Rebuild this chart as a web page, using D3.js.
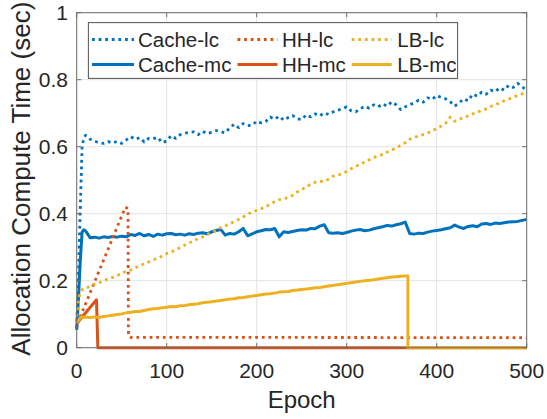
<!DOCTYPE html>
<html><head><meta charset="utf-8">
<script src="https://cdn.jsdelivr.net/npm/d3@7"></script>
<style>
body{margin:0;background:#fff}
svg{display:block}
text{font-family:"Liberation Sans",Arial,Helvetica,sans-serif;fill:#262626}
</style>
</head><body><svg id="c" width="547" height="419"></svg>
<script>
// ---------- data ----------
const seriesNames = ["Cache-lc","Cache-mc","HH-lc","HH-mc","LB-lc","LB-mc"];
const xTicks = [0,100,200,300,400,500];
const yTicks = [0,0.2,0.4,0.6,0.8,1];
const yTickLabels = ["0","0.2","0.4","0.6","0.8","1"];

const epochs = [0,2,4,6,8,10,15,20,25,30,35,40,45,50,55,60,65,70,75,80,85,90,95,100,
 105,110,115,120,125,130,135,140,145,150,155,160,165,170,175,180,185,190,195,200,
 205,210,215,220,225,230,235,240,245,250,255,260,265,270,275,280,285,290,295,300,
 305,310,315,320,325,330,335,340,345,350,355,360,365,370,375,380,385,390,395,400,
 405,410,415,420,425,430,435,440,445,450,455,460,465,470,475,480,485,490,495,500];

const cacheLc = [0.06,0.22,0.42,0.60,0.628,0.634,0.622,0.616,0.612,0.610,0.615,0.611,0.616,0.610,0.620,0.630,0.622,0.627,0.614,0.625,0.624,0.628,0.612,0.617,
 0.633,0.625,0.636,0.640,0.643,0.644,0.636,0.646,0.639,0.643,0.648,0.645,0.641,0.656,0.667,0.657,0.669,0.663,0.664,0.676,
 0.671,0.675,0.689,0.682,0.691,0.679,0.687,0.693,0.683,0.681,0.695,0.689,0.698,0.692,0.701,0.696,0.704,0.709,0.713,0.719,
 0.707,0.704,0.713,0.721,0.715,0.725,0.719,0.728,0.721,0.734,0.725,0.711,0.719,0.725,0.731,0.739,0.733,0.746,0.741,0.753,
 0.747,0.743,0.734,0.721,0.731,0.743,0.737,0.757,0.751,0.763,0.757,0.769,0.764,0.776,0.769,0.783,0.777,0.789,0.779,0.768];

const cacheMc = [0.053,0.15,0.26,0.345,0.352,0.348,0.328,0.330,0.327,0.331,0.329,0.332,0.330,0.333,0.331,0.338,0.335,0.341,0.334,0.338,0.332,0.339,0.336,0.340,
 0.341,0.337,0.339,0.336,0.340,0.338,0.342,0.343,0.340,0.346,0.350,0.353,0.336,0.341,0.339,0.346,0.356,0.334,0.340,0.346,
 0.349,0.353,0.352,0.356,0.331,0.346,0.344,0.347,0.350,0.352,0.351,0.356,0.355,0.363,0.367,0.343,0.342,0.343,0.341,0.344,
 0.348,0.351,0.353,0.349,0.351,0.355,0.358,0.361,0.365,0.363,0.367,0.370,0.375,0.341,0.339,0.342,0.341,0.345,0.348,0.350,
 0.352,0.355,0.358,0.366,0.360,0.356,0.362,0.364,0.361,0.369,0.371,0.368,0.372,0.371,0.373,0.375,0.376,0.377,0.380,0.383];

const lbLc = [0.093,0.14,0.168,0.173,0.176,0.178,0.183,0.190,0.194,0.200,0.206,0.210,0.215,0.222,0.228,0.232,0.238,0.246,0.250,0.256,0.262,0.267,0.274,0.281,
 0.286,0.292,0.299,0.306,0.313,0.319,0.326,0.331,0.338,0.344,0.351,0.358,0.363,0.370,0.376,0.383,0.390,0.398,0.406,0.410,
 0.415,0.421,0.428,0.436,0.442,0.444,0.449,0.455,0.465,0.472,0.480,0.488,0.494,0.496,0.497,0.503,0.512,0.515,0.520,0.526,
 0.534,0.541,0.548,0.554,0.561,0.568,0.572,0.577,0.584,0.590,0.596,0.604,0.612,0.622,0.628,0.632,0.636,0.641,0.648,0.654,
 0.662,0.670,0.688,0.676,0.681,0.688,0.692,0.698,0.703,0.708,0.713,0.720,0.725,0.731,0.737,0.742,0.748,0.753,0.758,0.764];

const lbMcEpochs = [0,5,10,15,20,25,30,35,40,45,50,55,60,65,70,75,80,85,90,95,100,
 105,110,115,120,125,130,135,140,145,150,155,160,165,170,175,180,185,190,195,200,
 205,210,215,220,225,230,235,240,245,250,255,260,265,270,275,280,285,290,295,300,
 305,310,315,320,325,330,335,340,345,350,355,360,365,368,368,500];
const lbMc = [0.075,0.092,0.091,0.090,0.092,0.090,0.093,0.095,0.097,0.099,0.101,0.104,0.106,0.108,0.108,0.111,0.114,0.116,0.117,0.119,0.121,
 0.123,0.122,0.125,0.126,0.128,0.130,0.131,0.134,0.136,0.137,0.139,0.141,0.143,0.145,0.146,0.149,0.150,0.152,0.154,0.156,
 0.158,0.160,0.161,0.163,0.166,0.167,0.168,0.171,0.172,0.174,0.175,0.177,0.179,0.180,0.182,0.184,0.186,0.188,0.190,0.192,
 0.194,0.196,0.198,0.200,0.201,0.203,0.205,0.207,0.209,0.211,0.212,0.213,0.214,0.214,0,0];

const hhLcEpochs = [1,54,57,57.5,60,500];
const hhLc = [0.073,0.419,0.415,0.035,0.031,0.030];
const hhMcEpochs = [0,22,23.5,500];
const hhMc = [0.072,0.143,0,0];

const colors = {blue:"#0072BD", orange:"#D95319", yellow:"#EDB120"};

// ---------- layout ----------
const svg = d3.select("#c");
const L = 76.7, R = 526.7, T = 12.7, B = 347.7;
const x = d3.scaleLinear().domain([0,500]).range([L,R]);
const y = d3.scaleLinear().domain([0,1]).range([B,T]);

// grid
const g = svg.append("g");
g.selectAll(".gx").data(xTicks).join("line")
 .attr("x1",d=>x(d)).attr("x2",d=>x(d)).attr("y1",T).attr("y2",B)
 .attr("stroke","#e3e3e3").attr("stroke-width",1);
g.selectAll(".gy").data(yTicks).join("line")
 .attr("x1",L).attr("x2",R).attr("y1",d=>y(d)).attr("y2",d=>y(d))
 .attr("stroke","#e3e3e3").attr("stroke-width",1);

// series
const series = [
 {name:"Cache-lc", xs:epochs, ys:cacheLc, color:colors.blue, dotted:true},
 {name:"Cache-mc", xs:epochs, ys:cacheMc, color:colors.blue, dotted:false},
 {name:"HH-lc", xs:hhLcEpochs, ys:hhLc, color:colors.orange, dotted:true},
 {name:"HH-mc", xs:hhMcEpochs, ys:hhMc, color:colors.orange, dotted:false},
 {name:"LB-lc", xs:epochs, ys:lbLc, color:colors.yellow, dotted:true},
 {name:"LB-mc", xs:lbMcEpochs, ys:lbMc, color:colors.yellow, dotted:false}
];
const line = d3.line().x(d=>x(d[0])).y(d=>y(d[1]));
const DASH = "2.8,3.8";
series.forEach(s=>{
 const pts = s.xs.map((e,i)=>[e,s.ys[i]]);
 svg.append("path").attr("d",line(pts)).attr("fill","none")
  .attr("stroke",s.color).attr("stroke-width",s.dotted?2.8:3)
  .attr("stroke-dasharray",s.dotted?DASH:null)
  .attr("stroke-linejoin","round");
});

// axes box
const axCol = "#6e6e6e";
svg.append("rect").attr("x",L).attr("y",T).attr("width",R-L).attr("height",B-T)
 .attr("fill","none").attr("stroke",axCol).attr("stroke-width",1);
const tl = 4.5;
xTicks.forEach(t=>{
 svg.append("line").attr("x1",x(t)).attr("x2",x(t)).attr("y1",B).attr("y2",B-tl).attr("stroke",axCol);
 svg.append("line").attr("x1",x(t)).attr("x2",x(t)).attr("y1",T).attr("y2",T+tl).attr("stroke",axCol);
});
yTicks.forEach(t=>{
 svg.append("line").attr("x1",L).attr("x2",L+tl).attr("y1",y(t)).attr("y2",y(t)).attr("stroke",axCol);
 svg.append("line").attr("x1",R).attr("x2",R-tl).attr("y1",y(t)).attr("y2",y(t)).attr("stroke",axCol);
});

// tick labels
svg.selectAll(".xl").data(xTicks).join("text")
 .attr("x",d=>x(d)).attr("y",378).attr("text-anchor","middle")
 .attr("font-size",21).text(d=>d);
svg.selectAll(".yl").data(yTicks).join("text")
 .attr("x",68).attr("y",d=>y(d)+7.5).attr("text-anchor","end")
 .attr("font-size",21).text((d,i)=>yTickLabels[i]);

// axis titles
svg.append("text").attr("x",(L+R)/2).attr("y",408).attr("text-anchor","middle")
 .attr("font-size",24).text("Epoch");
svg.append("text").attr("transform",`translate(30,${(T+B)/2 - 1.5}) rotate(-90)`)
 .attr("text-anchor","middle").attr("font-size",26).text("Allocation Compute Time (sec)");

// legend
const leg = svg.append("g");
leg.append("rect").attr("x",88.3).attr("y",22.7).attr("width",457.7-88.3).attr("height",78.3-22.7)
 .attr("fill","#fff").attr("stroke","#262626").attr("stroke-width",0.8);
const cols = [{x1:92,x2:134,tx:138},{x1:237.5,x2:277.5,tx:282},{x1:351.7,x2:391.7,tx:397.3}];
const rows = [39.5,64.5];
series.forEach((s,i)=>{
 const c = cols[Math.floor(i/2)], ry = rows[i%2];
 leg.append("line").attr("x1",c.x1).attr("x2",c.x2).attr("y1",ry).attr("y2",ry)
  .attr("stroke",s.color).attr("stroke-width",s.dotted?2.8:3)
  .attr("stroke-dasharray",s.dotted?DASH:null);
 leg.append("text").attr("x",c.tx).attr("y",ry+7.2).attr("font-size",20.5).text(s.name);
});
</script></body></html>
